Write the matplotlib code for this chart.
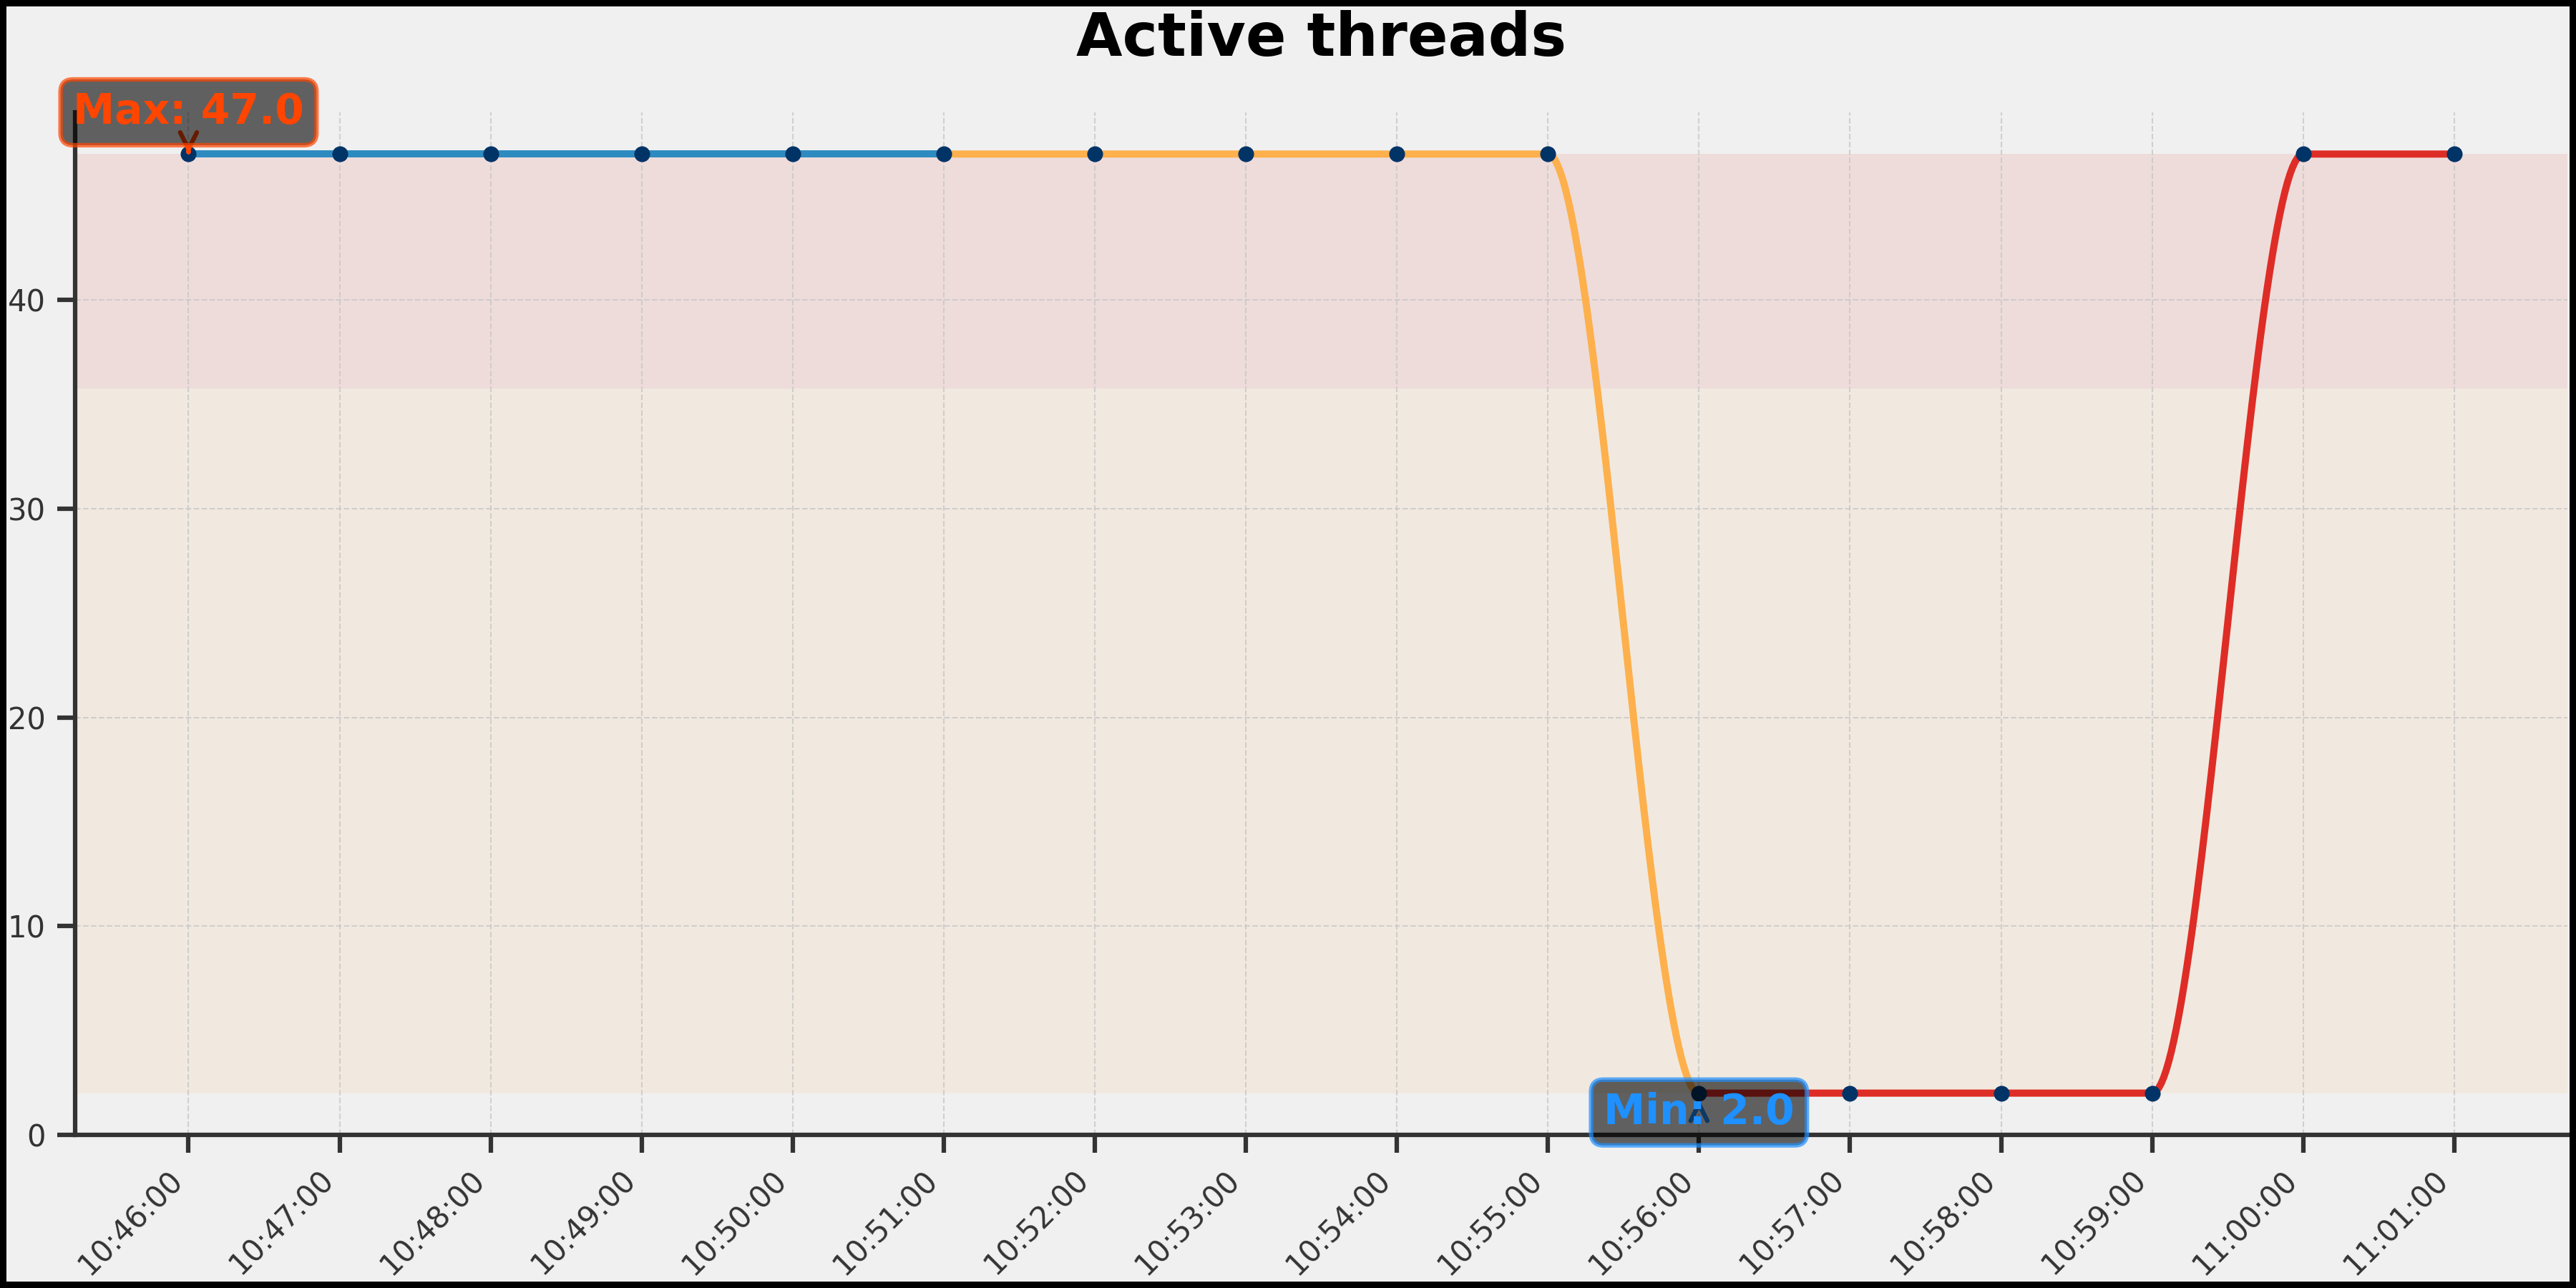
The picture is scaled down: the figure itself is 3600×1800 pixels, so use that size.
import numpy as np
import pandas as pd
import matplotlib
matplotlib.use("Agg")
import matplotlib.pyplot as plt
import matplotlib.dates as mdates

# ---- data ----
times = ["10:46:00", "10:47:00", "10:48:00", "10:49:00", "10:50:00", "10:51:00",
         "10:52:00", "10:53:00", "10:54:00", "10:55:00", "10:56:00", "10:57:00",
         "10:58:00", "10:59:00", "11:00:00", "11:01:00"]
threads = [47, 47, 47, 47, 47, 47, 47, 47, 47, 47, 2, 2, 2, 2, 47, 47]
segment_bounds = [(0, 5), (5, 10), (10, 15)]
segment_colors = ["#2E8BC0", "#FDB04C", "#DE2D26"]
band_low, band_mid, band_high = 2.0, 35.75, 47.0
title = "Active threads"
max_label = "Max: 47.0"
min_label = "Min: 2.0"

# ---- helpers ----
def pchip(x, y, xn):
    x = np.asarray(x, float); y = np.asarray(y, float)
    h = np.diff(x); delta = np.diff(y) / h
    n = len(x)
    d = np.zeros(n)
    for k in range(1, n - 1):
        if delta[k - 1] * delta[k] > 0:
            w1 = 2 * h[k] + h[k - 1]
            w2 = h[k] + 2 * h[k - 1]
            d[k] = (w1 + w2) / (w1 / delta[k - 1] + w2 / delta[k])
    def edge(h0, h1, m0, m1):
        dd = ((2 * h0 + h1) * m0 - h0 * m1) / (h0 + h1)
        if np.sign(dd) != np.sign(m0):
            dd = 0.0
        elif np.sign(m0) != np.sign(m1) and abs(dd) > abs(3 * m0):
            dd = 3 * m0
        return dd
    d[0] = edge(h[0], h[1], delta[0], delta[1])
    d[-1] = edge(h[-1], h[-2], delta[-1], delta[-2])
    idx = np.clip(np.searchsorted(x, xn) - 1, 0, n - 2)
    t = (xn - x[idx]) / h[idx]
    h00 = 2 * t**3 - 3 * t**2 + 1
    h10 = t**3 - 2 * t**2 + t
    h01 = -2 * t**3 + 3 * t**2
    h11 = t**3 - t**2
    return (h00 * y[idx] + h10 * h[idx] * d[idx] + h01 * y[idx + 1] + h11 * h[idx] * d[idx + 1])

# ---- figure ----
bg = "#F0F0F0"
fig = plt.figure(figsize=(12, 6), dpi=300, facecolor=bg)
fig.patch.set_edgecolor("black")
fig.patch.set_linewidth(3.9)
ax = fig.add_axes([0.0292, 0.1189, 0.9675, 0.7939])
ax.set_facecolor(bg)

dts = pd.to_datetime(["2024-01-01 " + t for t in times])
xnum = mdates.date2num(dts.to_pydatetime())
yv = np.array(threads, float)

ax.axhspan(band_low, band_mid, color=segment_colors[1], alpha=0.1, lw=0, zorder=0)
ax.axhspan(band_mid, band_high, color=segment_colors[2], alpha=0.1, lw=0, zorder=0)

for (i0, i1), c in zip(segment_bounds, segment_colors):
    xs = np.linspace(xnum[i0], xnum[i1], 300)
    ys = pchip(xnum, yv, xs)
    ax.plot(xs, ys, color=c, lw=2.4, solid_capstyle="round", zorder=3)

ax.plot(xnum, yv, "o", color="#003366", markersize=4.3, zorder=4, lw=0)

ax.set_xlim(xnum[0] - 0.05 * (xnum[-1] - xnum[0]), xnum[-1] + 0.05 * (xnum[-1] - xnum[0]))
ax.set_ylim(0, 49)
ax.xaxis.set_major_locator(mdates.MinuteLocator())
ax.xaxis.set_major_formatter(mdates.DateFormatter("%H:%M:%S"))
ax.set_yticks([0, 10, 20, 30, 40])

for s in ["top", "right"]:
    ax.spines[s].set_visible(False)
for s in ["left", "bottom"]:
    ax.spines[s].set_color("#333333")
    ax.spines[s].set_linewidth(1.5)
ax.tick_params(axis="both", colors="#333333", length=6, width=1.5, labelsize=10, pad=4)
plt.setp(ax.get_xticklabels(), rotation=45, ha="right")
ax.grid(True, ls="--", lw=0.5, color="#c8c8c8", alpha=0.8, zorder=1)
ax.set_axisbelow(True)

ax.set_title(title, fontsize=20, fontweight="bold", pad=19)

imax = int(np.argmax(yv)); imin = int(np.argmin(yv))
ax.annotate(max_label, xy=(xnum[imax], yv[imax]), xytext=(0, 14), textcoords="offset points",
            ha="center", va="center", fontsize=14, fontweight="bold", color="#FF4500",
            bbox=dict(boxstyle="round,pad=0.3", fc=(0, 0, 0, 0.6), ec=(1, 0.27, 0, 0.7), lw=1.5),
            arrowprops=dict(arrowstyle="->", color="#FF4500", lw=1.5), zorder=6)
ax.annotate(min_label, xy=(xnum[imin], yv[imin]), xytext=(0, -6.5), textcoords="offset points",
            ha="center", va="center", fontsize=14, fontweight="bold", color="#1E90FF",
            bbox=dict(boxstyle="round,pad=0.3", fc=(0, 0, 0, 0.6), ec=(0.12, 0.56, 1, 0.7), lw=1.5),
            arrowprops=dict(arrowstyle="->", color="#1E90FF", lw=1.5), zorder=6)

fig.savefig("out.png", dpi=300, facecolor=bg, edgecolor="black")
